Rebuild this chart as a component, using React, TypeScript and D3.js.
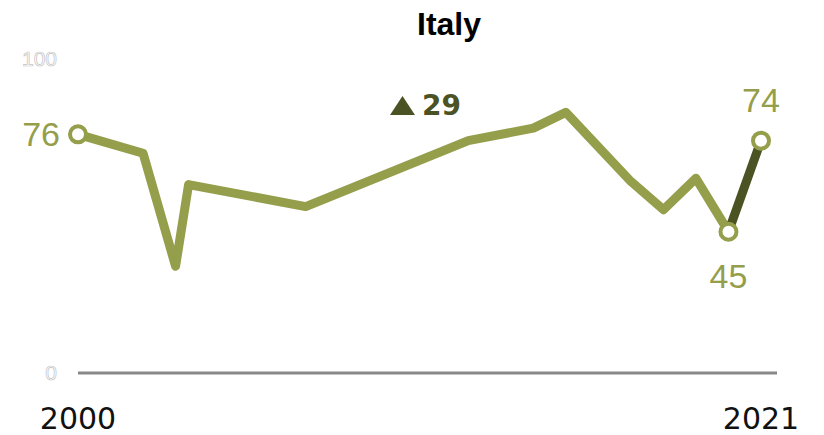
import React from "react";
import * as d3 from "d3";

const title = "Italy";
const years = [2000, 2002, 2003, 2003.4, 2007, 2012, 2014, 2015, 2017, 2018, 2019, 2020, 2021];
const values = [76, 70, 34, 60, 53, 74, 78, 83, 61, 52, 62, 45, 74];
const yTicks = [0, 100];
const xTickLabels = ["2000", "2021"];

const W = 824;
const H = 435;
const LIGHT = "#959e4a";
const DARK = "#4b5325";
const FONT = "'Liberation Sans', Arial, sans-serif";
const WIDE = "'DejaVu Sans', 'Liberation Sans', sans-serif";

export default function App() {
  const x = d3.scaleLinear().domain([2000, 2021]).range([78, 761]);
  const y = d3.scaleLinear().domain([0, 100]).range([373, 59]);
  const pts = years.map((yr, i) => ({ yr, v: values[i] }));
  const n = pts.length;
  const line = d3
    .line<{ yr: number; v: number }>()
    .x((d) => x(d.yr))
    .y((d) => y(d.v));
  const mainPts = pts.slice(0, n - 1);
  const lastSeg = pts.slice(n - 2);
  const first = pts[0];
  const prev = pts[n - 2];
  const last = pts[n - 1];
  const change = last.v - prev.v;

  const triX = 390;
  const triBase = 115;
  const tri =
    change >= 0
      ? `M${triX},${triBase} L${triX + 25},${triBase} L${triX + 12.5},${triBase - 19} Z`
      : `M${triX},${triBase - 19} L${triX + 25},${triBase - 19} L${triX + 12.5},${triBase} Z`;

  return (
    <svg
      width={W}
      height={H}
      style={{ position: "absolute", left: 0, top: 0, background: "#fff" }}
    >
      <text
        x={449}
        y={35}
        textAnchor="middle"
        fontFamily={FONT}
        fontWeight="bold"
        fontSize={32}
        fill="#000"
      >
        {title}
      </text>

      {yTicks.map((t) => (
        <text
          key={t}
          x={57}
          y={y(t) + 7}
          textAnchor="end"
          fontFamily={FONT}
          fontSize={21}
          fill="#fff"
          stroke="#c4c4c4"
          strokeWidth={0.7}
        >
          {t}
        </text>
      ))}

      <line
        x1={x(2000)}
        x2={777}
        y1={y(0)}
        y2={y(0)}
        stroke="#888"
        strokeWidth={3}
      />

      {[2000, 2021].map((yr, i) => (
        <text
          key={yr}
          x={x(yr)}
          y={429}
          textAnchor="middle"
          fontFamily={WIDE}
          fontSize={30}
          fill="#111"
        >
          {xTickLabels[i]}
        </text>
      ))}

      <path
        d={line(mainPts) || ""}
        fill="none"
        stroke={LIGHT}
        strokeWidth={9}
        strokeLinejoin="round"
        strokeLinecap="round"
      />
      <path
        d={line(lastSeg) || ""}
        fill="none"
        stroke={DARK}
        strokeWidth={9}
        strokeLinecap="round"
      />

      {[first, prev, last].map((p, i) => (
        <circle
          key={i}
          cx={x(p.yr)}
          cy={y(p.v)}
          r={8}
          fill="#fff"
          stroke={LIGHT}
          strokeWidth={4}
        />
      ))}

      <text
        x={x(first.yr) - 18}
        y={y(first.v) + 12}
        textAnchor="end"
        fontFamily={FONT}
        fontSize={34}
        fill={LIGHT}
      >
        {first.v}
      </text>
      <text
        x={x(prev.yr)}
        y={y(prev.v) + 56}
        textAnchor="middle"
        fontFamily={FONT}
        fontSize={34}
        fill={LIGHT}
      >
        {prev.v}
      </text>
      <text
        x={x(last.yr)}
        y={y(last.v) - 29}
        textAnchor="middle"
        fontFamily={FONT}
        fontSize={34}
        fill={LIGHT}
      >
        {last.v}
      </text>

      <path d={tri} fill={DARK} />
      <text
        x={triX + 32}
        y={triBase}
        fontFamily={WIDE}
        fontWeight="bold"
        fontSize={28}
        fill={DARK}
      >
        {Math.abs(change)}
      </text>
    </svg>
  );
}
